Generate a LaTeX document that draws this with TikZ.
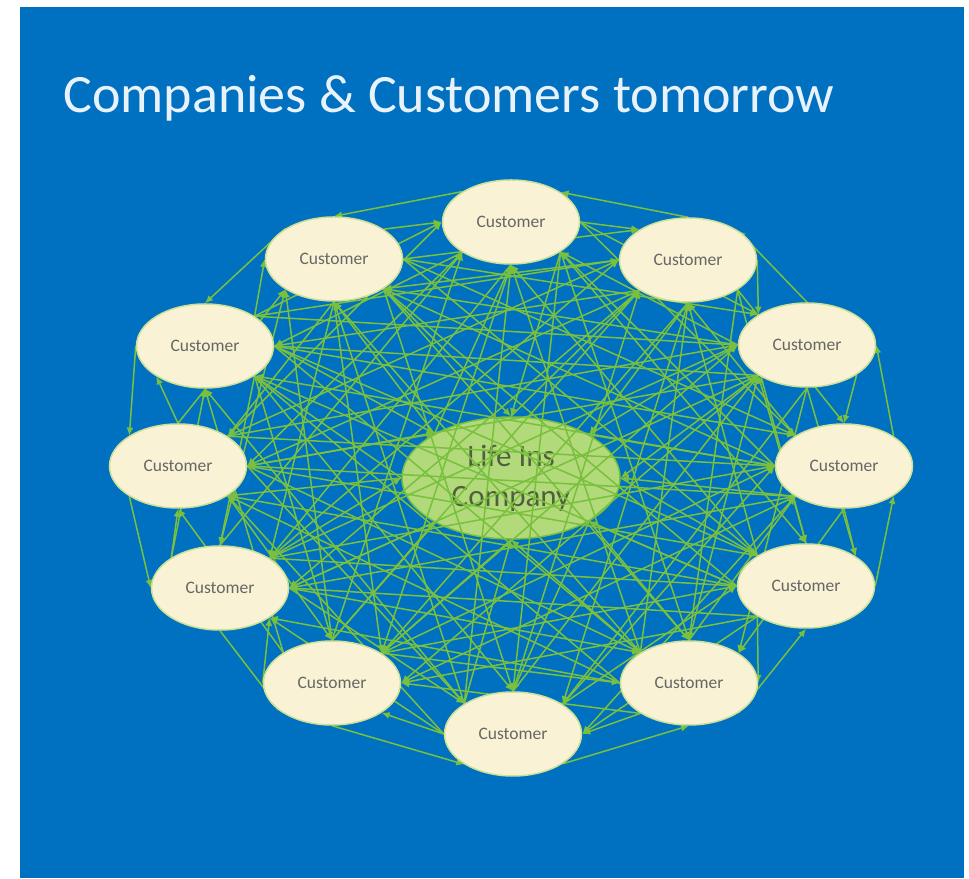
\documentclass[tikz,border=0pt]{standalone}
\usepackage{fontspec}
\setmainfont{Carlito}
\usepackage{xcolor}
\usepackage{tikz}
\usetikzlibrary{shapes.geometric,arrows.meta}
\definecolor{slideblue}{RGB}{0,112,192}
\definecolor{titletext}{RGB}{232,242,250}
\definecolor{linkgreen}{RGB}{120,192,62}
\definecolor{custfill}{RGB}{250,242,212}
\definecolor{custedge}{RGB}{205,225,150}
\definecolor{hubfill}{RGB}{178,218,122}
\definecolor{hubtext}{RGB}{80,96,62}

\pgfdeclarelayer{back}
\pgfdeclarelayer{mesh}
\pgfsetlayers{back,mesh,main}

% customers clockwise from the top (0..11), 12 is the company
\def\px{{511,688,807,844,806,689,513,332,220,178,205,334,511}}
\def\py{{656,618,533,412,292,195,144,195,290,412,532,619,400}}
\def\rx{{68.5,68.5,68.5,68.5,68.5,68.5,68.5,68.5,68.5,68.5,68.5,68.5,109}}
\def\ry{{42,42,42,42,42,42,42,42,42,42,42,42,61}}

% border angle of the connection site at parameter #2 on ellipse #1
\newcommand\siteangle[3]{%
  \pgfmathtruncatemacro#3{atan2(\ry[#1]*sin(#2),\rx[#1]*cos(#2))}}

\begin{document}
\begin{tikzpicture}[x=1pt,y=1pt,
    customer/.style={ellipse,draw=custedge,line width=1.5pt,fill=custfill,
      minimum width=137pt,minimum height=84pt,inner sep=0pt,
      text=black!60,font=\fontsize{17.5}{20}\selectfont},
    company/.style={ellipse,draw=linkgreen,line width=1.5pt,fill=hubfill,
      minimum width=218pt,minimum height=122pt,inner sep=0pt,align=center,
      text=hubtext,font=\fontsize{31}{40}\selectfont},
    link/.style={draw=linkgreen,line width=1.5pt,-{Latex[length=8pt,width=7pt]}}
  ]
  \begin{pgfonlayer}{back}
    \fill[white] (0,0) rectangle (969,878);
    \fill[slideblue] (20,0) rectangle (964,871);
    \node[company] (company) at (511,400) {Life Ins\\Company};
  \end{pgfonlayer}

  \node[anchor=base west,text=titletext,font=\fontsize{54}{60}\selectfont]
    (title) at (60,765) {Companies \& Customers tomorrow};

  % the ring of customers
  \foreach \k in {0,...,11} {
    \pgfmathsetmacro\cx{\px[\k]}
    \pgfmathsetmacro\cy{\py[\k]}
    \node[customer] (cust\k) at (\cx,\cy) {Customer};
  }

  % every pair linked both ways, neighbours also round the outside
  \begin{pgfonlayer}{mesh}
  \foreach \i in {0,...,11} {
    \pgfmathtruncatemacro\first{\i+1}
    \foreach \j in {\first,...,12} {
      \edef\na{cust\i}
      \ifnum\j=12 \def\nb{company}\else\edef\nb{cust\j}\fi
      \pgfmathsetmacro\ang{atan2(\py[\j]-\py[\i],\px[\j]-\px[\i])}
      \pgfmathsetmacro\back{\ang+180}
      \pgfmathsetmacro\sa{45*floor(\ang/45)+45}
      \pgfmathsetmacro\ea{45*floor(\back/45)}
      \pgfmathsetmacro\sb{\ea+45}
      \pgfmathsetmacro\eb{\sa-45}
      \pgfmathtruncatemacro\nxt{\i+1}
      \ifnum\j=\nxt
        \ifnum\j<12
          % clockwise inside, back round the outside
          \siteangle{\i}{\sa}{\pa}\siteangle{\j}{\ea}{\pb}
          \draw[link] (\na.\pa) -- (\nb.\pb);
          \pgfmathsetmacro\so{45*round((\back-67.5)/45)}
          \pgfmathsetmacro\eo{45*round((\ang+67.5)/45)}
          \siteangle{\j}{\so}{\pa}\siteangle{\i}{\eo}{\pb}
          \draw[link] (\nb.\pa) -- (\na.\pb);
        \else
          \siteangle{\i}{\sa}{\pa}\siteangle{\j}{\ea}{\pb}
          \draw[link] (\na.\pa) -- (\nb.\pb);
          \siteangle{\j}{\sb}{\pa}\siteangle{\i}{\eb}{\pb}
          \draw[link] (\nb.\pa) -- (\na.\pb);
        \fi
      \else
        \ifnum\i=0 \ifnum\j=11 \def\wrap{1}\else\def\wrap{0}\fi
        \else\def\wrap{0}\fi
        \ifnum\wrap=1
          \siteangle{\j}{\sb}{\pa}\siteangle{\i}{\eb}{\pb}
          \draw[link] (\nb.\pa) -- (\na.\pb);
          \pgfmathsetmacro\so{45*round((\ang-67.5)/45)}
          \pgfmathsetmacro\eo{45*round((\back+67.5)/45)}
          \siteangle{\i}{\so}{\pa}\siteangle{\j}{\eo}{\pb}
          \draw[link] (\na.\pa) -- (\nb.\pb);
        \else
          \siteangle{\i}{\sa}{\pa}\siteangle{\j}{\ea}{\pb}
          \draw[link] (\na.\pa) -- (\nb.\pb);
          \siteangle{\j}{\sb}{\pa}\siteangle{\i}{\eb}{\pb}
          \draw[link] (\nb.\pa) -- (\na.\pb);
        \fi
      \fi
    }
  }
  \end{pgfonlayer}
\end{tikzpicture}
\end{document}
